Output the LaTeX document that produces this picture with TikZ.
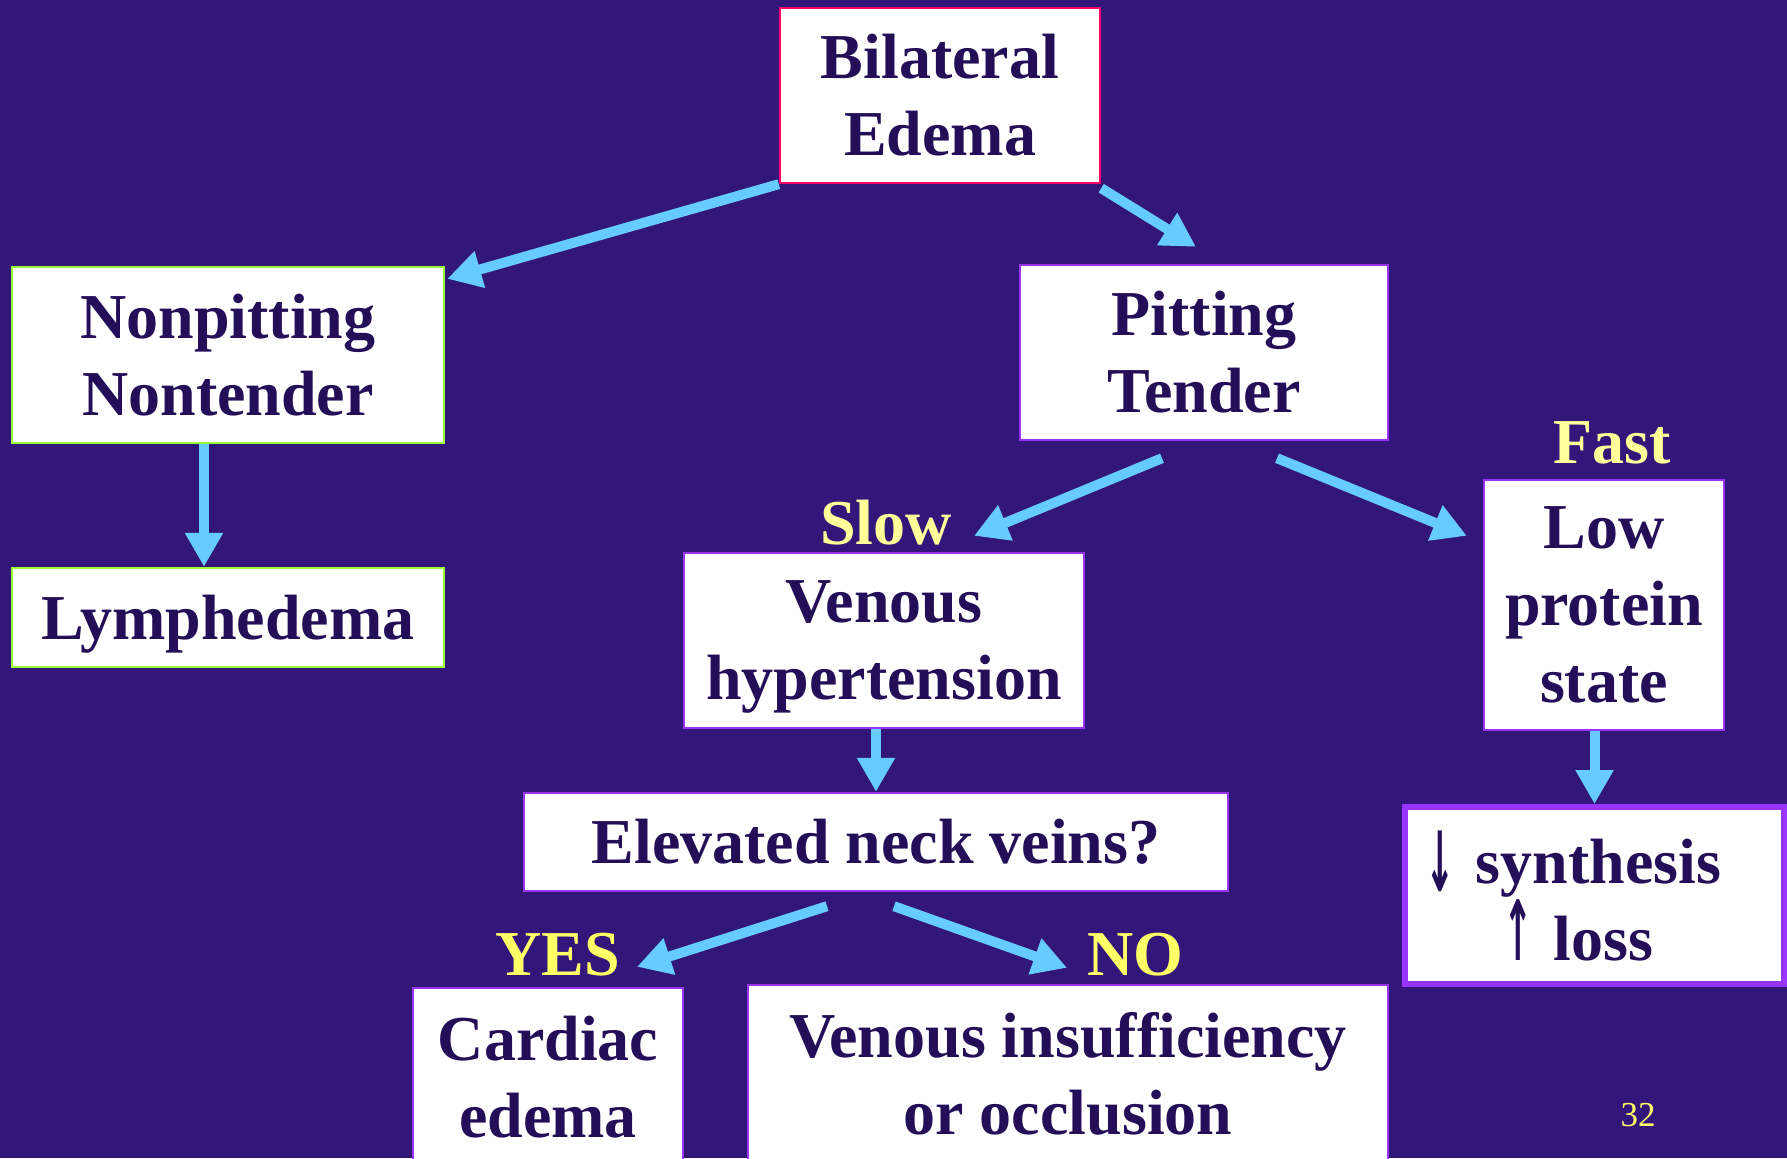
\documentclass[tikz,border=0pt]{standalone}
\usepackage{fontspec}
\setmainfont{Liberation Serif}
\newfontfamily\arrowfont{DejaVu Sans}
\usetikzlibrary{arrows.meta,positioning,calc}
\definecolor{edbg}{RGB}{51,22,122}
\definecolor{edtext}{RGB}{36,14,88}
\definecolor{edarrow}{RGB}{102,204,255}
\definecolor{edpink}{RGB}{255,0,102}
\definecolor{edgreen}{RGB}{153,255,51}
\definecolor{edpurple}{RGB}{153,51,255}
\definecolor{edyellow}{RGB}{255,255,153}
\definecolor{edlemon}{RGB}{255,255,102}
\newcommand{\tallarrow}[1]{\scalebox{0.55}[1.3]{\arrowfont\bfseries #1}}
\tikzset{
  box/.style={draw=edpurple, fill=white, line width=1.2pt, text=edtext, align=center,
    font=\fontsize{32}{38.5}\selectfont\bfseries, inner sep=0pt},
  flow/.style={edarrow, line width=5pt, -{Triangle[width=18pt,length=17pt]}},
  tag/.style={font=\fontsize{32}{38.5}\selectfont\bfseries, inner sep=0pt}
}
\begin{document}
\begin{tikzpicture}[x=0.5pt, y=-0.5pt]
\fill[edbg] (0,0) rectangle (1787,1158);
\useasboundingbox (0,0) rectangle (1787,1158);
% Top
\node[box, draw=edpink, minimum width=160pt, minimum height=87.5pt] (bilateral) at (940,95.5) {Bilateral\\Edema};
% Left branch
\node[box, draw=edgreen, minimum width=216pt, minimum height=88pt] (nonpit) at (228,355) {Nonpitting\\Nontender};
\node[box, draw=edgreen, minimum width=216pt, minimum height=49.5pt, text depth=0pt] (lymph) at (228,617.5) {Lymphedema};
% Right branch
\node[box, minimum width=184pt, minimum height=87.5pt] (pitting) at (1204,352.5) {Pitting\\Tender};
\node[box, minimum width=200pt, minimum height=87.5pt, text depth=0pt] (venhyp) at (884,640.5) {Venous\\hypertension};
\node[box, minimum width=120pt, minimum height=125pt] (lowprot) at (1604,605) {Low\\protein\\state};
\node[box, line width=3pt, minimum height=88.5pt, text width=169.5pt, inner xsep=10pt, align=left] (synth) at (1594.5,895.5)
  {\raisebox{-4pt}{\tallarrow{↓}}\ synthesis\\\hspace*{39pt}\tallarrow{↑}\ loss};
\node[box, minimum width=352pt, minimum height=49pt] (elev) at (876,842) {Elevated neck veins?};
\node[box, minimum width=135pt, minimum height=89pt] (cardiac) at (548,1077) {Cardiac\\edema};
\node[box, minimum width=320pt, minimum height=89pt] (vinsuff) at (1068,1074) {Venous insufficiency\\or occlusion};
% Labels
\node[tag, edyellow] (slow) at (886,523) {Slow};
\node[tag, edyellow] (fast) at (1612,443) {Fast};
\node[tag, edlemon] (yes) at (558,955) {YES};
\node[tag, edlemon] (no) at (1135,955) {NO};
\node[font=\fontsize{17.5}{20}\selectfont, edlemon, inner sep=0pt] (page) at (1638,1115) {32};
% Arrows
\draw[flow] (bilateral.south west) -- ($(nonpit.north east)+(2,13)$);
\draw[flow] ($(bilateral.south east)+(0,4)$) -- ($(pitting.north)+(-8,-17)$);
\draw[flow] ($(nonpit.south)+(-24,0)$) -- ($(lymph.north)+(-24,0)$);
\draw[flow] ($(pitting.south)+(-42,17)$) -- ($(venhyp.north)+(90,-16)$);
\draw[flow] ($(pitting.south)+(73,17)$) -- ($(lowprot.north west)+(-16,57)$);
\draw[flow] (venhyp.south -| elev.north) -- (elev.north);
\draw[flow] (lowprot.south -| synth.north) -- (synth.north);
\draw[flow] ($(elev.south)+(-49,14)$) -- ($(cardiac.north)+(89,-20)$);
\draw[flow] ($(elev.south)+(18,14)$) -- ($(vinsuff.north)+(-1,-16)$);
\end{tikzpicture}
\end{document}
